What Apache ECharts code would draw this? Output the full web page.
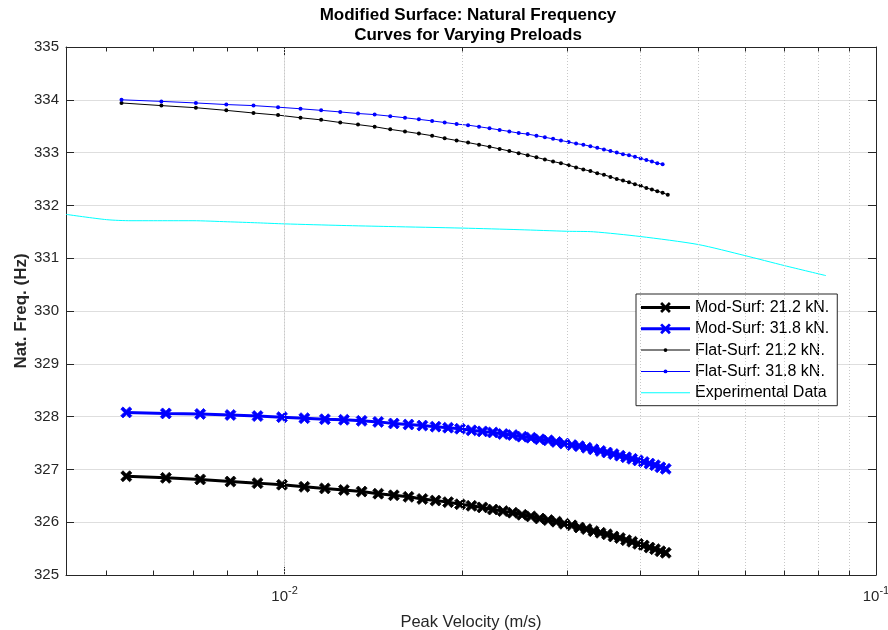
<!DOCTYPE html>
<html><head><meta charset="utf-8">
<script src="https://cdn.jsdelivr.net/npm/echarts@6/dist/echarts.min.js"></script>
<style>html,body{margin:0;padding:0;background:#fff}#c{width:888px;height:630px}</style>
</head><body><div id="c"></div>
<script>
// ---- data ----
const xFlat = [0.00530, 0.00619, 0.00708, 0.00797, 0.00886, 0.00975, 0.01064, 0.01153, 0.01242, 0.01331,
  0.01420, 0.01509, 0.01598, 0.01687, 0.01776, 0.01865, 0.01954, 0.02043, 0.02132, 0.02221,
  0.02310, 0.02399, 0.02488, 0.02577, 0.02666, 0.02755, 0.02844, 0.02933, 0.03022, 0.03111,
  0.03200, 0.03289, 0.03378, 0.03467, 0.03556, 0.03645, 0.03734, 0.03823, 0.03912, 0.04001,
  0.04090, 0.04179, 0.04268, 0.04357, 0.04446];
const yFlat212 = [333.94, 333.89, 333.85, 333.80, 333.75, 333.71, 333.66, 333.62, 333.57, 333.53,
  333.49, 333.44, 333.40, 333.36, 333.32, 333.27, 333.23, 333.19, 333.15, 333.11,
  333.07, 333.03, 332.99, 332.95, 332.91, 332.87, 332.83, 332.80, 332.76, 332.72,
  332.68, 332.65, 332.61, 332.58, 332.54, 332.50, 332.47, 332.44, 332.40, 332.37,
  332.33, 332.30, 332.27, 332.24, 332.20];
const yFlat318 = [334.00, 333.97, 333.94, 333.91, 333.89, 333.86, 333.83, 333.80, 333.77, 333.74,
  333.72, 333.69, 333.66, 333.63, 333.60, 333.57, 333.54, 333.52, 333.49, 333.46,
  333.43, 333.40, 333.37, 333.35, 333.32, 333.29, 333.26, 333.23, 333.20, 333.17,
  333.15, 333.12, 333.09, 333.06, 333.03, 333.00, 332.97, 332.95, 332.92, 332.89,
  332.86, 332.83, 332.80, 332.78];
const xMod = [0.0054, 0.0063, 0.0072, 0.0081, 0.0090, 0.0099, 0.0108, 0.0117, 0.0126, 0.0135,
  0.0144, 0.0153, 0.0162, 0.0171, 0.0180, 0.0189, 0.0198, 0.0207, 0.0216, 0.0225,
  0.0234, 0.0243, 0.0252, 0.0261, 0.0270, 0.0279, 0.0288, 0.0297, 0.0306, 0.0315,
  0.0324, 0.0333, 0.0342, 0.0351, 0.0360, 0.0369, 0.0378, 0.0387, 0.0396, 0.0405,
  0.0414, 0.0423, 0.0432, 0.0441];
const yMod212 = [326.87, 326.84, 326.81, 326.77, 326.74, 326.71, 326.67, 326.64, 326.61, 326.58,
  326.54, 326.51, 326.48, 326.44, 326.41, 326.38, 326.34, 326.31, 326.28, 326.24,
  326.21, 326.18, 326.14, 326.11, 326.07, 326.04, 326.01, 325.97, 325.94, 325.90,
  325.87, 325.83, 325.80, 325.77, 325.73, 325.70, 325.66, 325.63, 325.59, 325.56,
  325.52, 325.49, 325.45, 325.42];
const yMod318 = [328.08, 328.06, 328.05, 328.03, 328.01, 327.99, 327.97, 327.95, 327.94, 327.92,
  327.90, 327.87, 327.85, 327.83, 327.81, 327.79, 327.77, 327.74, 327.72, 327.70,
  327.67, 327.65, 327.62, 327.60, 327.57, 327.55, 327.52, 327.49, 327.46, 327.44,
  327.41, 327.38, 327.35, 327.32, 327.29, 327.26, 327.23, 327.20, 327.17, 327.14,
  327.11, 327.08, 327.04, 327.01];
const xExp = [0.00427, 0.0050, 0.0055, 0.0060, 0.0070, 0.0080, 0.0090, 0.0100, 0.0125, 0.0150,
  0.0200, 0.0250, 0.0300, 0.0333, 0.0400, 0.0500, 0.0600, 0.0700, 0.0823];
const yExp = [331.83, 331.73, 331.71, 331.71, 331.71, 331.69, 331.67, 331.65, 331.62, 331.60,
  331.57, 331.54, 331.51, 331.50, 331.41, 331.26, 331.05, 330.86, 330.67];
const seriesNames = ['Mod-Surf: 21.2 kN.', 'Mod-Surf: 31.8 kN.', 'Flat-Surf: 21.2 kN.', 'Flat-Surf: 31.8 kN.', 'Experimental Data'];
const minorTickValues = [0.005, 0.006, 0.007, 0.008, 0.009, 0.02, 0.03, 0.04, 0.05, 0.06, 0.07, 0.08, 0.09];
const xMin = 0.00427, xMax = 0.1, yMin = 325, yMax = 335, yStep = 1;

// ---- styling ----
const FONT = "'Liberation Sans', Arial, Helvetica, sans-serif";
const AX = '#262626';
const GRID = '#dedede';
const X_SYM = 'path://M0,2 L2,0 L5,3 L8,0 L10,2 L7,5 L10,8 L8,10 L5,7 L2,10 L0,8 L3,5 Z';
const ICON_MOD = 'path://M0,4 L50,4 L50,7 L0,7 Z M19.5,2 L21.5,0 L25,3.5 L28.5,0 L30.5,2 L27,5.5 L30.5,9 L28.5,11 L25,7.5 L21.5,11 L19.5,9 L23,5.5 Z';
const ICON_FLAT = 'path://M0,1.5 L50,1.5 L50,2.5 L0,2.5 Z M23,2 A2,2 0 1 1 27,2 A2,2 0 1 1 23,2 Z';
const ICON_EXP = 'path://M0,0 L50,0 L50,1 L0,1 Z';

function pair(xs, ys) { return ys.map((y, i) => [xs[i], y]); }

const minorTickLen = 0.085;
const minorTickLines = [];
minorTickValues.forEach(v => {
  minorTickLines.push([{ coord: [v, yMin] }, { coord: [v, yMin + minorTickLen] }]);
  minorTickLines.push([{ coord: [v, yMax] }, { coord: [v, yMax - minorTickLen] }]);
});

const chart = echarts.init(document.getElementById('c'), null, { renderer: 'canvas' });
const option = {
  animation: false,
  backgroundColor: '#ffffff',
  textStyle: { fontFamily: FONT },
  title: {
    text: 'Modified Surface: Natural Frequency\nCurves for Varying Preloads',
    left: 463, top: 1, textAlign: 'center',
    textStyle: { fontSize: 17, fontWeight: 'bold', color: '#000', fontFamily: FONT, lineHeight: 19.5 }
  },
  grid: { left: 66, right: 12, top: 47, bottom: 55, containLabel: false, outerBoundsMode: 'none' },
  legend: {
    orient: 'vertical', left: 636, top: 294,
    padding: [5.5, 8, 5, 5], itemGap: 5.3, itemWidth: 49, itemHeight: 12,
    symbolKeepAspect: true,
    backgroundColor: '#fff', borderColor: AX, borderWidth: 1, borderRadius: 0,
    selectedMode: false,
    itemStyle: { borderWidth: 0 },
    textStyle: { fontSize: 16, color: '#000', fontFamily: FONT },
    data: [
      { name: seriesNames[0], icon: ICON_MOD },
      { name: seriesNames[1], icon: ICON_MOD },
      { name: seriesNames[2], icon: ICON_FLAT },
      { name: seriesNames[3], icon: ICON_FLAT },
      { name: seriesNames[4], icon: ICON_EXP }
    ]
  },
  xAxis: [
    {
      type: 'log', logBase: 10, min: xMin, max: xMax, position: 'bottom',
      axisLine: { show: true, onZero: false, lineStyle: { color: AX, width: 1 } },
      axisTick: { show: true, inside: true, length: 8, lineStyle: { color: AX } },
      minorTick: { show: false }, minorSplitLine: { show: false },
      axisLabel: {
        show: true, margin: 10, showMinLabel: false, showMaxLabel: true,
        formatter: function (v) {
          const e = Math.log10(v); const r = Math.round(e);
          if (Math.abs(e - r) > 1e-6) return '';
          return '{b|10}{s|' + r + '}';
        },
        rich: {
          b: { fontSize: 15, color: AX, fontFamily: FONT },
          s: { fontSize: 11, color: AX, fontFamily: FONT, padding: [0, 0, 12, 0] }
        }
      },
      splitLine: { show: true, lineStyle: { color: GRID, width: 1 } },
      name: 'Peak Velocity (m/s)', nameLocation: 'middle', nameGap: 39,
      nameTextStyle: { fontSize: 16.5, color: AX, fontFamily: FONT }
    },
    {
      type: 'log', logBase: 10, min: xMin, max: xMax, position: 'top',
      axisLine: { show: true, onZero: false, lineStyle: { color: AX, width: 1 } },
      axisTick: { show: true, inside: true, length: 8, lineStyle: { color: AX } },
      axisLabel: { show: false }, splitLine: { show: false }
    }
  ],
  yAxis: [
    {
      type: 'value', min: yMin, max: yMax, interval: yStep, position: 'left',
      axisLine: { show: true, onZero: false, lineStyle: { color: AX, width: 1 } },
      axisTick: { show: true, inside: true, length: 8, lineStyle: { color: AX } },
      axisLabel: { show: true, margin: 7, fontSize: 15, color: AX, fontFamily: FONT },
      splitLine: { show: true, lineStyle: { color: GRID, width: 1 } },
      name: 'Nat. Freq. (Hz)', nameLocation: 'middle', nameGap: 36, nameRotate: 90,
      nameMoveOverlap: false,
      nameTextStyle: { fontSize: 17, fontWeight: 'bold', color: AX, fontFamily: FONT }
    },
    {
      type: 'value', min: yMin, max: yMax, interval: yStep, position: 'right',
      axisLine: { show: true, onZero: false, lineStyle: { color: AX, width: 1 } },
      axisTick: { show: true, inside: true, length: 8, lineStyle: { color: AX } },
      axisLabel: { show: false }, splitLine: { show: false }
    }
  ],
  series: [
    {
      name: '_minorGrid', type: 'line', z: 1, silent: true, symbol: 'none',
      data: [[0.01, 330]], lineStyle: { width: 0, opacity: 0 },
      markLine: {
        silent: true, symbol: ['none', 'none'], label: { show: false },
        lineStyle: { color: '#c8c8c8', width: 1, type: [1, 2] },
        emphasis: { disabled: true },
        data: minorTickValues.map(v => ({ xAxis: v }))
      }
    },
    {
      name: '_minorTicks', type: 'line', z: 5, silent: true, symbol: 'none',
      data: [[0.01, 330]], lineStyle: { width: 0, opacity: 0 },
      markLine: {
        silent: true, symbol: ['none', 'none'], label: { show: false },
        lineStyle: { color: AX, width: 1, type: 'solid' },
        emphasis: { disabled: true },
        data: minorTickLines
      }
    },
    {
      name: seriesNames[0], type: 'line', data: pair(xMod, yMod212), color: '#000000',
      symbol: X_SYM, symbolSize: 11, showAllSymbol: true, silent: true,
      lineStyle: { color: '#000000', width: 3 }, itemStyle: { color: '#000000', borderColor: '#000000', borderWidth: 0.8 },
      emphasis: { disabled: true }
    },
    {
      name: seriesNames[1], type: 'line', data: pair(xMod, yMod318), color: '#0000ff',
      symbol: X_SYM, symbolSize: 11, showAllSymbol: true, silent: true,
      lineStyle: { color: '#0000ff', width: 3 }, itemStyle: { color: '#0000ff', borderColor: '#0000ff', borderWidth: 0.8 },
      emphasis: { disabled: true }
    },
    {
      name: seriesNames[2], type: 'line', data: pair(xFlat, yFlat212), color: '#000000',
      symbol: 'circle', symbolSize: 4, showAllSymbol: true, silent: true,
      lineStyle: { color: '#000000', width: 1 }, itemStyle: { color: '#000000', borderWidth: 0 },
      emphasis: { disabled: true }
    },
    {
      name: seriesNames[3], type: 'line', data: pair(xFlat, yFlat318), color: '#0000ff',
      symbol: 'circle', symbolSize: 4, showAllSymbol: true, silent: true,
      lineStyle: { color: '#0000ff', width: 1 }, itemStyle: { color: '#0000ff', borderWidth: 0 },
      emphasis: { disabled: true }
    },
    {
      name: seriesNames[4], type: 'line', data: pair(xExp, yExp), color: '#00ffff',
      symbol: 'none', smooth: 0.25, silent: true,
      lineStyle: { color: '#00ffff', width: 1 }, itemStyle: { color: '#00ffff', borderWidth: 0 },
      emphasis: { disabled: true }
    }
  ]
};
chart.setOption(option);
</script>
</body></html>
